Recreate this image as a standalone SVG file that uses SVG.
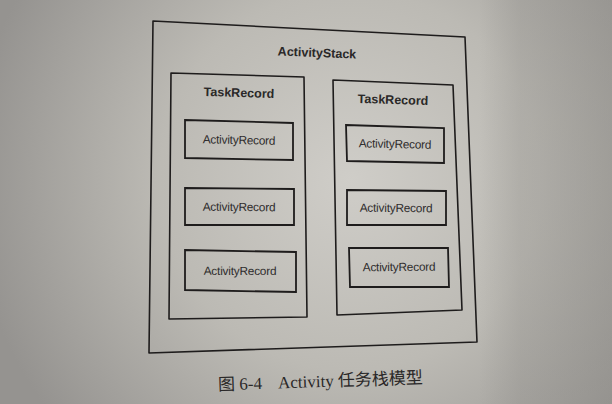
<svg xmlns="http://www.w3.org/2000/svg" width="612" height="404" viewBox="0 0 612 404">
<defs>
<radialGradient id="paper" cx="350" cy="180" r="380" gradientUnits="userSpaceOnUse">
<stop offset="0" stop-color="#cfcdc8"/>
<stop offset="0.5" stop-color="#bcbab4"/>
<stop offset="1" stop-color="#959390"/>
</radialGradient>
<linearGradient id="rightband" x1="480" y1="0" x2="612" y2="0" gradientUnits="userSpaceOnUse">
<stop offset="0" stop-color="#8f8d89" stop-opacity="0"/>
<stop offset="0.3" stop-color="#8f8d89" stop-opacity="0.3"/>
<stop offset="1" stop-color="#8a8884" stop-opacity="0.4"/>
</linearGradient>
<style>
.box{fill:none;stroke:#1e1c1c;stroke-width:1.6;stroke-linejoin:round}
.rec{fill:none;stroke:#1e1c1c;stroke-width:1.8;stroke-linejoin:miter}
.b{font-family:"Liberation Sans",Arial,sans-serif;font-weight:bold;font-size:12.5px;fill:#2a2828;text-anchor:middle}
.r{font-family:"Liberation Sans",Arial,sans-serif;font-size:11.8px;fill:#2e2c2c;text-anchor:middle;letter-spacing:-0.2px}
.cap{font-family:"Liberation Serif","Noto Sans CJK SC",serif;font-size:17px;fill:#2a2828}
</style>
</defs>
<rect x="0" y="0" width="612" height="404" fill="url(#paper)"/>
<rect x="0" y="0" width="612" height="404" fill="url(#rightband)"/>
<g id="activitystack">
<polygon class="box" points="153,21 465,37 477,342 149,353"/>
<text class="b" x="317" y="57" transform="rotate(2.2 317 53)">ActivityStack</text>
</g>
<g id="task1">
<polygon class="box" points="171,73 304,77 307,317 169,319"/>
<text class="b" x="239" y="97" transform="rotate(1.8 239 93)">TaskRecord</text>
</g>
<g id="task2">
<polygon class="box" points="333,80 453,85 462,310 337,315"/>
<text class="b" x="393" y="104" transform="rotate(1.8 393 100)">TaskRecord</text>
</g>
<g id="rec1">
<polygon class="rec" points="185,120 293,123 293,160 185,158"/>
<text class="r" x="239" y="144" transform="rotate(1.2 239 140)">ActivityRecord</text>
</g>
<g id="rec2">
<polygon class="rec" points="185,188 294,189 294,225 185,225"/>
<text class="r" x="239" y="211" transform="rotate(0.5 239 207)">ActivityRecord</text>
</g>
<g id="rec3">
<polygon class="rec" points="185,250 296,252 296,292 185,290"/>
<text class="r" x="240" y="275" transform="rotate(0.2 240 271)">ActivityRecord</text>
</g>
<g id="rec4">
<polygon class="rec" points="346,125 444,128 444,163 347,161"/>
<text class="r" x="395" y="148" transform="rotate(1.2 395 144)">ActivityRecord</text>
</g>
<g id="rec5">
<polygon class="rec" points="347,190 446,191 446,225 347,225"/>
<text class="r" x="396" y="212" transform="rotate(0.5 396 208)">ActivityRecord</text>
</g>
<g id="rec6">
<polygon class="rec" points="349,248 448,248 449,287 350,287"/>
<text class="r" x="399" y="271" transform="rotate(-0.5 399 267)">ActivityRecord</text>
</g>
<g id="connectors"></g>
<text class="cap" x="218" y="387" transform="rotate(-2 320 380)">图 6-4<tspan dx="16">Activity 任务栈模型</tspan></text>
</svg>
